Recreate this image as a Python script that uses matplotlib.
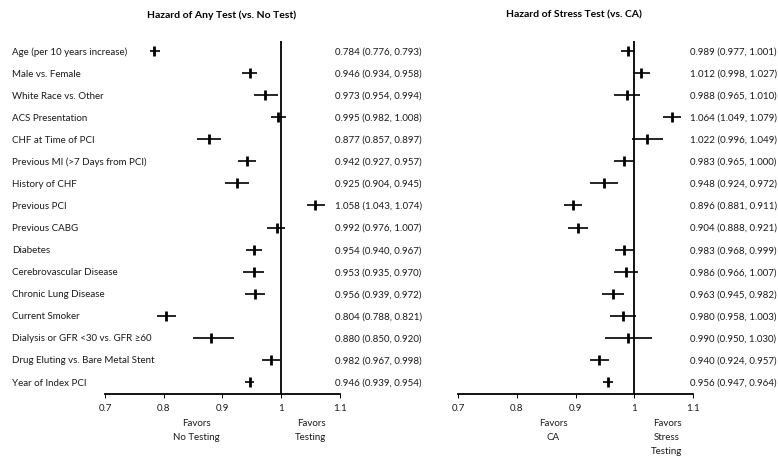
import matplotlib
matplotlib.use("Agg")
import matplotlib.pyplot as plt
import matplotlib.transforms as mtransforms

plt.rcParams["font.family"] = ["Lato", "DejaVu Sans"]

labels = [
    "Age (per 10 years increase)",
    "Male vs. Female",
    "White Race vs. Other",
    "ACS Presentation",
    "CHF at Time of PCI",
    "Previous MI (>7 Days from PCI)",
    "History of CHF",
    "Previous PCI",
    "Previous CABG",
    "Diabetes",
    "Cerebrovascular Disease",
    "Chronic Lung Disease",
    "Current Smoker",
    "Dialysis or GFR <30 vs. GFR \u226560",
    "Drug Eluting vs. Bare Metal Stent",
    "Year of Index PCI",
]

any_hr = [0.784, 0.946, 0.973, 0.995, 0.877, 0.942, 0.925, 1.058,
          0.992, 0.954, 0.953, 0.956, 0.804, 0.880, 0.982, 0.946]
any_lo = [0.776, 0.934, 0.954, 0.982, 0.857, 0.927, 0.904, 1.043,
          0.976, 0.940, 0.935, 0.939, 0.788, 0.850, 0.967, 0.939]
any_hi = [0.793, 0.958, 0.994, 1.008, 0.897, 0.957, 0.945, 1.074,
          1.007, 0.967, 0.970, 0.972, 0.821, 0.920, 0.998, 0.954]

stress_hr = [0.989, 1.012, 0.988, 1.064, 1.022, 0.983, 0.948, 0.896,
             0.904, 0.983, 0.986, 0.963, 0.980, 0.990, 0.940, 0.956]
stress_lo = [0.977, 0.998, 0.965, 1.049, 0.996, 0.965, 0.924, 0.881,
             0.888, 0.968, 0.966, 0.945, 0.958, 0.950, 0.924, 0.947]
stress_hi = [1.001, 1.027, 1.010, 1.079, 1.049, 1.000, 0.972, 0.911,
             0.921, 0.999, 1.007, 0.982, 1.003, 1.030, 0.957, 0.964]

ticks = [0.7, 0.8, 0.9, 1.0, 1.1]
tick_labels = ["0.7", "0.8", "0.9", "1", "1.1"]

W, H = 778, 460
fs = 7.0
txt_col = "#1a1a1a"

fig = plt.figure(figsize=(W / 100, H / 100), dpi=100)


def forest(ax_left, hr, lo, hi, text_x, title, title_x, fav_left, fav_left_x, fav_right, fav_right_x):
    ax = fig.add_axes([ax_left / W, 65.5 / H, 235 / W, 352.5 / H])
    rows = list(range(len(hr)))
    ax.set_xlim(0.7, 1.1)
    ax.set_ylim(15.52, -0.45)

    ax.axvline(1.0, color="black", lw=1.3)
    ax.hlines(rows, lo, hi, color="black", lw=1.2)
    ax.plot(hr, rows, ls="none", marker="|", ms=6.5, mew=2.0, color="black")

    for s in ["top", "left", "right"]:
        ax.spines[s].set_visible(False)
    ax.spines["bottom"].set_linewidth(1.3)
    ax.spines["bottom"].set_bounds(0.7, 1.1)
    ax.set_yticks([])
    ax.set_xticks(ticks)
    ax.set_xticklabels(tick_labels, fontsize=fs, color=txt_col)
    ax.tick_params(axis="x", direction="out", length=3, width=0.7, pad=4)

    trans = mtransforms.blended_transform_factory(fig.transFigure, ax.transData)
    for i in rows:
        ax.text(text_x / W, i, f"{hr[i]:.3f} ({lo[i]:.3f}, {hi[i]:.3f})",
                transform=trans, ha="left", va="center", fontsize=fs, color=txt_col)

    fig.text(title_x / W, 1 - 15 / H, title, ha="center", va="center",
             fontsize=7.5, fontweight="bold")
    fig.text(fav_left_x / W, 1 - 419 / H, fav_left, ha="center", va="top",
             fontsize=fs, linespacing=1.75, color=txt_col)
    fig.text(fav_right_x / W, 1 - 419 / H, fav_right, ha="center", va="top",
             fontsize=fs, linespacing=1.75, color=txt_col)
    return ax


ax1 = forest(105, any_hr, any_lo, any_hi, 335, "Hazard of Any Test (vs. No Test)", 222,
             "Favors\nNo Testing", 196, "Favors\nTesting", 311)
ax2 = forest(458, stress_hr, stress_lo, stress_hi, 690, "Hazard of Stress Test (vs. CA)", 574,
             "Favors\nCA", 553, "Favors\nStress\nTesting", 667)

trans1 = mtransforms.blended_transform_factory(fig.transFigure, ax1.transData)
for i, lab in enumerate(labels):
    ax1.text(12 / W, i, lab, transform=trans1, ha="left", va="center",
             fontsize=fs, color=txt_col)

fig.savefig("out.png", dpi=100)
